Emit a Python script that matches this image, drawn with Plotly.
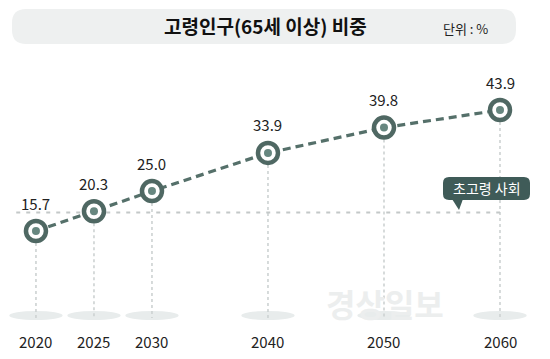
import plotly.graph_objects as go

years = [2020, 2025, 2030, 2040, 2050, 2060]
values = [15.7, 20.3, 25.0, 33.9, 39.8, 43.9]
value_labels = ["15.7", "20.3", "25.0", "33.9", "39.8", "43.9"]
year_labels = ["2020", "2025", "2030", "2040", "2050", "2060"]
threshold = 20.0
threshold_label = "초고령 사회"
title_text = "고령인구(65세 이상) 비중"
unit_text = "단위 : %"

W, H = 550, 359
FONT = "Noto Sans CJK KR"
XR = [2016.9, 2064.31]
YR = [-14.14, 69.55]
BASE = -4.6  # bottom of vertical guide lines (data units)

def px_to_paper_x(px):
    return px / W

def px_to_paper_y(py):
    return 1 - py / H

def rounded_path(x0, y0, x1, y1, r):
    def P(x, y):
        return f"{px_to_paper_x(x):.5f},{px_to_paper_y(y):.5f}"
    return (f"M {P(x0 + r, y0)} L {P(x1 - r, y0)} Q {P(x1, y0)} {P(x1, y0 + r)} "
            f"L {P(x1, y1 - r)} Q {P(x1, y1)} {P(x1 - r, y1)} L {P(x0 + r, y1)} "
            f"Q {P(x0, y1)} {P(x0, y1 - r)} L {P(x0, y0 + r)} Q {P(x0, y0)} {P(x0 + r, y0)} Z")

fig = go.Figure()

for yr, v in zip(years, values):
    fig.add_trace(go.Scatter(x=[yr, yr], y=[v, BASE], mode="lines",
                             line=dict(color="#cdd2d2", width=1.6, dash="dot"),
                             hoverinfo="skip", showlegend=False))

fig.add_trace(go.Scatter(x=[2018.3, 2060.0], y=[threshold, threshold], mode="lines",
                         line=dict(color="#c3c8c8", width=2, dash="4px,6px"),
                         hoverinfo="skip", showlegend=False))

fig.add_trace(go.Scatter(x=years, y=values, mode="lines",
                         line=dict(color="#55706a", width=3.2, dash="8px,5px"),
                         hoverinfo="skip", showlegend=False))

fig.add_trace(go.Scatter(x=years, y=values, mode="markers",
                         marker=dict(size=20, color="white",
                                     line=dict(color="#4f6863", width=4.5)),
                         hoverinfo="skip", showlegend=False))
fig.add_trace(go.Scatter(x=years, y=values, mode="markers",
                         marker=dict(size=8, color="#678780"),
                         hoverinfo="skip", showlegend=False))

shapes = []
shapes.append(dict(type="path", xref="paper", yref="paper",
                   path=rounded_path(12, 9, 516, 44, 14),
                   fillcolor="#eef0f0", line=dict(width=0), layer="below"))
for yr in years:
    shapes.append(dict(type="circle", xref="x", yref="paper",
                       x0=yr - 2.3, x1=yr + 2.3,
                       y0=px_to_paper_y(320), y1=px_to_paper_y(311),
                       fillcolor="#e8ecec", line=dict(width=0), layer="below"))
shapes.append(dict(type="path", xref="paper", yref="paper",
                   path=rounded_path(443, 177, 530, 200, 6),
                   fillcolor="#3f5b58", line=dict(width=0)))
shapes.append(dict(type="path", xref="paper", yref="paper",
                   path=(f"M {px_to_paper_x(452):.5f},{px_to_paper_y(199):.5f} "
                         f"L {px_to_paper_x(463):.5f},{px_to_paper_y(199):.5f} "
                         f"L {px_to_paper_x(459):.5f},{px_to_paper_y(210):.5f} Z"),
                   fillcolor="#3f5b58", line=dict(width=0)))

annotations = []
annotations.append(dict(text=title_text, xref="paper", yref="paper",
                        x=px_to_paper_x(265), y=px_to_paper_y(25),
                        showarrow=False, xanchor="center", yanchor="middle",
                        font=dict(family=FONT, size=19, color="#111111", weight="bold")))
annotations.append(dict(text=unit_text, xref="paper", yref="paper",
                        x=px_to_paper_x(465), y=px_to_paper_y(28),
                        showarrow=False, xanchor="center", yanchor="middle",
                        font=dict(family=FONT, size=13, color="#222222")))
annotations.append(dict(text=threshold_label, xref="paper", yref="paper",
                        x=px_to_paper_x(486.5), y=px_to_paper_y(188.5),
                        showarrow=False, xanchor="center", yanchor="middle",
                        font=dict(family=FONT, size=14, color="white")))
annotations.append(dict(text="경상일보", xref="paper", yref="paper",
                        x=px_to_paper_x(385), y=px_to_paper_y(303),
                        showarrow=False, xanchor="center", yanchor="middle",
                        font=dict(family=FONT, size=32, color="#eceeee", weight="bold")))
for yr, v, lab in zip(years, values, value_labels):
    annotations.append(dict(text=lab, x=yr, y=v, xref="x", yref="y",
                            showarrow=False, yshift=28, xanchor="center", yanchor="middle",
                            font=dict(family=FONT, size=15, color="#222222")))
for yr, lab in zip(years, year_labels):
    annotations.append(dict(text=lab, x=yr, xref="x", yref="paper",
                            y=px_to_paper_y(341), showarrow=False,
                            xanchor="center", yanchor="middle",
                            font=dict(family=FONT, size=15, color="#222222")))

fig.update_layout(
    width=W, height=H,
    margin=dict(l=0, r=0, t=0, b=0),
    paper_bgcolor="white", plot_bgcolor="white",
    xaxis=dict(range=XR, visible=False, fixedrange=True),
    yaxis=dict(range=YR, visible=False, fixedrange=True),
    shapes=shapes, annotations=annotations,
    showlegend=False,
)

fig.write_html("out.html",
               config={"displayModeBar": False},
               post_script="document.body.style.margin='0';document.body.style.overflow='hidden';")
